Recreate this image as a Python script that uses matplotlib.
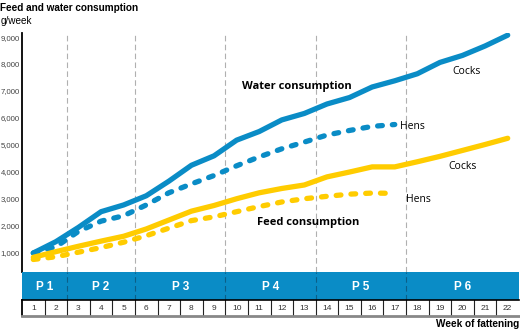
import matplotlib.pyplot as plt

# weekly consumption in g/week, one value per week of fattening
weeks = list(range(1, 23))
water_cocks = [1000, 1420, 1950, 2530, 2780, 3120, 3660, 4250, 4600, 5180, 5500,
               5930, 6170, 6520, 6760, 7150, 7380, 7640, 8060, 8320, 8670, 9070]
water_hens = [1000, 1230, 1800, 2180, 2380, 2780, 3230, 3560, 3870, 4230, 4560,
              4860, 5110, 5370, 5540, 5690, 5760]
feed_cocks = [840, 1050, 1250, 1440, 1620, 1890, 2220, 2550, 2760, 3010, 3230,
              3390, 3520, 3820, 4000, 4190, 4190, 4380, 4580, 4800, 5020, 5250]
feed_hens = [760, 860, 1030, 1200, 1400, 1640, 1920, 2200, 2340, 2530, 2720,
             2890, 3010, 3100, 3180, 3220, 3210]

# feeding phases: label, first week, last week
phases = [("P 1", 1, 2), ("P 2", 3, 5), ("P 3", 6, 9),
          ("P 4", 10, 13), ("P 5", 14, 17), ("P 6", 18, 22)]
yticks = list(range(1000, 10000, 1000))

BLUE = "#0a8cc6"
YELLOW = "#ffcc00"
W, H = 520, 332

fig = plt.figure(figsize=(W / 100, H / 100), dpi=100)

def box(left, top, right, bottom):
    return [left / W, 1 - bottom / H, (right - left) / W, (bottom - top) / H]

ax = fig.add_axes(box(22, 33, 519, 272))
band = fig.add_axes(box(22, 272, 519, 300))
wk = fig.add_axes(box(22, 300, 519, 316))

for a in (ax, band, wk):
    a.set_xlim(0, 22)
    a.set_xticks([])
    for s in a.spines.values():
        s.set_visible(False)

# main plot
ax.set_ylim(296, 9150)
ax.set_yticks(yticks)
ax.set_yticklabels([f"{v:,}" for v in yticks], fontsize=5.6, color="#444444",
                   family="Liberation Sans")
ax.tick_params(axis="y", length=0, pad=1.5)
ax.spines["left"].set_visible(True)
ax.spines["left"].set_linewidth(1.3)
ax.spines["left"].set_color("black")

bounds = [p[2] for p in phases[:-1]]
for b in bounds:
    ax.axvline(b, color="#b0b0b0", lw=0.8, dashes=(5, 3))
    band.axvline(b, color="#0b5f88", lw=0.8, dashes=(5, 3))

def xs(vals):
    return [w - 0.5 for w in weeks[:len(vals)]]

lw = 3.8
ax.plot(xs(water_cocks), water_cocks, color=BLUE, lw=lw,
        solid_capstyle="round", solid_joinstyle="round")
ax.plot(xs(water_hens), water_hens, color=BLUE, lw=lw, dashes=(0.9, 1.9),
        dash_capstyle="round", dash_joinstyle="round")
ax.plot(xs(feed_cocks), feed_cocks, color=YELLOW, lw=lw,
        solid_capstyle="round", solid_joinstyle="round")
ax.plot(xs(feed_hens), feed_hens, color=YELLOW, lw=lw, dashes=(0.9, 1.9),
        dash_capstyle="round", dash_joinstyle="round")

lab = dict(family="Open Sans", fontsize=7.5, va="center", ha="left")
ax.text(9.74, 7185, "Water consumption", fontweight="bold", **{**lab, "fontsize": 8})
ax.text(10.4, 2130, "Feed consumption", fontweight="bold", **{**lab, "fontsize": 8})
ax.text(19.03, 7720, "Cocks", **lab)
ax.text(16.75, 5680, "Hens", **lab)
ax.text(18.86, 4200, "Cocks", **lab)
ax.text(16.98, 2980, "Hens", **lab)

# phase band
band.set_facecolor(BLUE)
band.set_ylim(0, 1)
band.set_yticks([])
for name, first, last in phases:
    band.text((first - 1 + last) / 2, 0.48, name, color="white", fontsize=8.5,
              fontweight="bold", ha="center", va="center", family="Liberation Sans")

# week cells
wk.set_ylim(0, 1)
wk.set_yticks([])
for w in weeks[:-1]:
    wk.axvline(w, color="#222222", lw=0.8)
for w in weeks:
    wk.text(w - 0.5, 0.45, str(w), fontsize=6, color="#333333", ha="center",
            va="center", family="Liberation Sans")
wk.spines["top"].set_visible(True)
wk.spines["top"].set_color("black")
wk.spines["top"].set_linewidth(1.2)
wk.spines["bottom"].set_visible(True)
wk.spines["bottom"].set_color("#888888")
wk.spines["bottom"].set_linewidth(2)
wk.spines["left"].set_visible(True)
wk.spines["left"].set_color("black")
wk.spines["left"].set_linewidth(1.3)

fig.text(0.5 / W, 1 - 8 / H, "Feed and water consumption", fontsize=7.2,
         fontweight="bold", family="Liberation Sans", va="center", ha="left")
fig.text(0.5 / W, 1 - 21 / H, "g/week", fontsize=7.2, family="Liberation Sans",
         va="center", ha="left")
fig.text(519 / W, 1 - 324 / H, "Week of fattening", fontsize=7.2,
         fontweight="bold", family="Liberation Sans", va="center", ha="right")

fig.savefig("out.png", dpi=100)
